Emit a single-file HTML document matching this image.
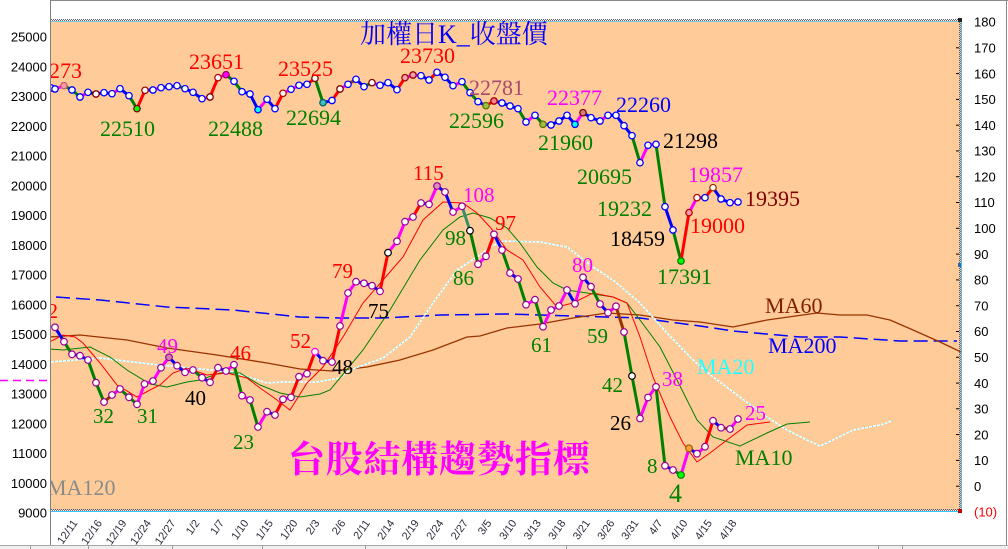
<!DOCTYPE html>
<html><head><meta charset="utf-8"><style>
html,body{margin:0;padding:0;background:#fff;}
body{width:1008px;height:549px;overflow:hidden;}
svg{display:block;}
.ax{font-family:"Liberation Sans",sans-serif;font-size:13px;fill:#000;}
.lb{font-family:"Liberation Serif",serif;font-size:22px;}
.lw{font-family:"Liberation Serif",serif;font-size:21px;}
.dt{font-family:"Liberation Sans",sans-serif;font-size:11px;fill:#2a2a3a;}
</style></head><body>
<svg width="1008" height="549" viewBox="0 0 1008 549" xmlns="http://www.w3.org/2000/svg">
<defs><clipPath id="pc"><rect x="51" y="21" width="910" height="489"/></clipPath></defs>
<rect x="0" y="0" width="1008" height="549" fill="#fff"/>
<!-- frame -->
<line x1="50" y1="0.5" x2="1008" y2="0.5" stroke="#8a8a8a"/>
<line x1="1006.5" y1="0" x2="1006.5" y2="545" stroke="#8a8a8a"/>
<line x1="50.5" y1="0" x2="50.5" y2="546" stroke="#808080"/>
<line x1="0" y1="545.5" x2="1008" y2="545.5" stroke="#a8a8a8"/>
<rect x="0" y="546" width="1008" height="3" fill="#efefef"/>
<line x1="30.5" y1="546" x2="30.5" y2="549" stroke="#999"/>
<line x1="88.5" y1="546" x2="88.5" y2="549" stroke="#999"/>
<line x1="172.5" y1="546" x2="172.5" y2="549" stroke="#999"/>
<line x1="262.5" y1="546" x2="262.5" y2="549" stroke="#999"/>
<line x1="365.5" y1="546" x2="365.5" y2="549" stroke="#999"/>
<line x1="566.5" y1="546" x2="566.5" y2="549" stroke="#999"/>
<line x1="878.5" y1="546" x2="878.5" y2="549" stroke="#999"/>
<line x1="902.5" y1="546" x2="902.5" y2="549" stroke="#999"/>
<!-- left magenta dashed -->
<line x1="0" y1="380.5" x2="48" y2="380.5" stroke="#ff00ff" stroke-width="1.5" stroke-dasharray="8 5"/>
<!-- plot bg -->
<rect x="51" y="21" width="910" height="489" fill="#FFCC99"/>
<!-- borders -->
<line x1="51" y1="19.5" x2="962" y2="19.5" stroke="#4a5a7a" stroke-dasharray="1 1"/>
<line x1="51" y1="20.5" x2="962" y2="20.5" stroke="#b05050" stroke-dasharray="1 1" stroke-dashoffset="1"/>
<line x1="51" y1="21.5" x2="962" y2="21.5" stroke="#33ccff" stroke-opacity="0.7"/>
<line x1="51" y1="509.5" x2="962" y2="509.5" stroke="#4a5a7a" stroke-dasharray="1 1"/>
<line x1="51" y1="510.5" x2="962" y2="510.5" stroke="#b05050" stroke-dasharray="1 1" stroke-dashoffset="1"/>
<line x1="51" y1="511.5" x2="962" y2="511.5" stroke="#33ccff"/>
<line x1="959.5" y1="20" x2="959.5" y2="511" stroke="#4a5a7a" stroke-dasharray="1 1"/>
<line x1="960.5" y1="20" x2="960.5" y2="511" stroke="#b05050" stroke-dasharray="1 1" stroke-dashoffset="1"/>
<line x1="961.5" y1="20" x2="961.5" y2="512" stroke="#33ccff"/>
<rect x="958" y="18" width="4" height="4" fill="#222"/>
<rect x="958" y="509" width="4" height="4" fill="#c00000"/>
<rect x="958" y="263" width="3" height="4" fill="#3366aa"/>
<!-- right ticks -->
<g stroke="#000" stroke-width="1">
<line x1="956" y1="47.8" x2="959" y2="47.8"/><line x1="956" y1="73.6" x2="959" y2="73.6"/><line x1="956" y1="99.4" x2="959" y2="99.4"/><line x1="956" y1="125.2" x2="959" y2="125.2"/><line x1="956" y1="150.9" x2="959" y2="150.9"/><line x1="956" y1="176.7" x2="959" y2="176.7"/><line x1="956" y1="202.5" x2="959" y2="202.5"/><line x1="956" y1="228.3" x2="959" y2="228.3"/><line x1="956" y1="254.1" x2="959" y2="254.1"/><line x1="956" y1="279.9" x2="959" y2="279.9"/><line x1="956" y1="305.7" x2="959" y2="305.7"/><line x1="956" y1="331.5" x2="959" y2="331.5"/><line x1="956" y1="357.3" x2="959" y2="357.3"/><line x1="956" y1="383.1" x2="959" y2="383.1"/><line x1="956" y1="408.8" x2="959" y2="408.8"/><line x1="956" y1="434.6" x2="959" y2="434.6"/><line x1="956" y1="460.4" x2="959" y2="460.4"/><line x1="956" y1="486.2" x2="959" y2="486.2"/>
</g>
<!-- left axis labels -->
<g class="ax" text-anchor="end">
<text x="47" y="41.7">25000</text><text x="47" y="71.4">24000</text><text x="47" y="101.2">23000</text><text x="47" y="130.9">22000</text><text x="47" y="160.7">21000</text><text x="47" y="190.4">20000</text><text x="47" y="220.2">19000</text><text x="47" y="249.9">18000</text><text x="47" y="279.7">17000</text><text x="47" y="309.4">16000</text><text x="47" y="339.2">15000</text><text x="47" y="368.9">14000</text><text x="47" y="398.7">13000</text><text x="47" y="428.4">12000</text><text x="47" y="458.2">11000</text><text x="47" y="487.9">10000</text><text x="47" y="517.7">9000</text>
</g>
<!-- right axis labels -->
<g class="ax">
<text x="974" y="26.7">180</text><text x="974" y="52.5">170</text><text x="974" y="78.3">160</text><text x="974" y="104.1">150</text><text x="974" y="129.9">140</text><text x="974" y="155.6">130</text><text x="974" y="181.4">120</text><text x="974" y="207.2">110</text><text x="974" y="233">100</text><text x="974" y="258.8">90</text><text x="974" y="284.6">80</text><text x="974" y="310.4">70</text><text x="974" y="336.2">60</text><text x="974" y="362">50</text><text x="974" y="387.8">40</text><text x="974" y="413.5">30</text><text x="974" y="439.3">20</text><text x="974" y="465.1">10</text><text x="974" y="490.9">0</text>
<text x="974" y="516.7" fill="#ff0000">(10)</text>
</g>
<!-- date labels -->
<g class="dt" text-anchor="end">
<text x="78" y="523" transform="rotate(-55 78 523)">12/11</text>
<text x="102.5" y="523" transform="rotate(-55 102.5 523)">12/16</text>
<text x="127" y="523" transform="rotate(-55 127 523)">12/19</text>
<text x="151.5" y="523" transform="rotate(-55 151.5 523)">12/24</text>
<text x="176" y="523" transform="rotate(-55 176 523)">12/27</text>
<text x="200" y="523" transform="rotate(-55 200 523)">1/2</text>
<text x="224.5" y="523" transform="rotate(-55 224.5 523)">1/7</text>
<text x="249" y="523" transform="rotate(-55 249 523)">1/10</text>
<text x="273.5" y="523" transform="rotate(-55 273.5 523)">1/15</text>
<text x="298" y="523" transform="rotate(-55 298 523)">1/20</text>
<text x="320" y="523" transform="rotate(-55 320 523)">2/3</text>
<text x="346" y="523" transform="rotate(-55 346 523)">2/6</text>
<text x="370.5" y="523" transform="rotate(-55 370.5 523)">2/11</text>
<text x="395" y="523" transform="rotate(-55 395 523)">2/14</text>
<text x="419.5" y="523" transform="rotate(-55 419.5 523)">2/19</text>
<text x="444" y="523" transform="rotate(-55 444 523)">2/24</text>
<text x="468.5" y="523" transform="rotate(-55 468.5 523)">2/27</text>
<text x="492" y="523" transform="rotate(-55 492 523)">3/5</text>
<text x="517" y="523" transform="rotate(-55 517 523)">3/10</text>
<text x="541.5" y="523" transform="rotate(-55 541.5 523)">3/13</text>
<text x="566" y="523" transform="rotate(-55 566 523)">3/18</text>
<text x="590.5" y="523" transform="rotate(-55 590.5 523)">3/21</text>
<text x="615" y="523" transform="rotate(-55 615 523)">3/26</text>
<text x="639" y="523" transform="rotate(-55 639 523)">3/31</text>
<text x="663" y="523" transform="rotate(-55 663 523)">4/7</text>
<text x="688" y="523" transform="rotate(-55 688 523)">4/10</text>
<text x="712.5" y="523" transform="rotate(-55 712.5 523)">4/15</text>
<text x="737" y="523" transform="rotate(-55 737 523)">4/18</text>
</g>

<g clip-path="url(#pc)">
<!-- MA lines -->
<polyline fill="none" stroke="#0000ff" stroke-width="1.5" stroke-dasharray="14 6" points="56,297 100,300 167,307 233,310 300,317 340,318 383,318 440,315 507,314 573,316 640,318 700,326 733,331 800,337 840,337 900,341 957,341"/>
<polyline fill="none" stroke="#993300" stroke-width="1.3" points="50,337 80,335 127,340 167,348 217,355 267,363 300,369 333,371 367,367 400,360 433,350 467,337 480,336 507,328 540,324 573,318 607,313 640,315 673,320 700,322 733,327 767,320 817,313 840,315 867,315 890,320 913,330 940,342 961,352"/>
<polyline fill="none" stroke="#ffffff" stroke-width="1.4" points="50,362 100,358 150,364 190,368 233,372 267,383 283,382 317,382 340,378 350,370 383,358 410,337 433,303 457,270 480,255 490,247 503,241 540,242 567,247 593,267 613,280 640,303 667,333 693,360 713,377 740,397 767,417 787,430 807,440 820,446 833,440 853,430 880,425 892,421"/>
<polyline fill="none" stroke="#22ddee" stroke-width="1" stroke-dasharray="1 3" points="50,362 100,358 150,364 190,368 233,372 267,383 283,382 317,382 340,378 350,370 383,358 410,337 433,303 457,270 480,255 490,247 503,241 540,242 567,247 593,267 613,280 640,303 667,333 693,360 713,377 740,397 767,417 787,430 807,440 820,446 833,440 853,430 880,425 892,421"/>
<polyline fill="none" stroke="#008000" stroke-width="1" points="50,349 63,350 90,347 110,357 127,370 150,384 167,387 187,382 200,380 220,373 240,373 260,385 280,393 300,397 320,394 330,390 340,378 363,350 390,310 420,260 443,230 460,217 473,213 490,218 507,228 520,243 537,267 553,283 567,290 587,293 613,297 627,303 640,320 660,347 677,380 697,420 713,437 740,446 767,433 787,424 810,422"/>
<polyline fill="none" stroke="#ff0000" stroke-width="1" points="50,341.7 63,335 75,337 83,343 100,363 117,385 137,397 150,390 160,385 173,373 187,368 207,375 227,373 247,378 260,388 273,397 290,410 307,383 323,367 343,337 363,303 383,280 403,257 423,220 443,202 463,203 477,213 490,227 507,250 523,260 540,287 557,307 573,303 593,293 613,297 627,303 640,337 653,377 670,417 683,443 697,462 710,453 727,440 747,425 770,422"/>

<!-- lower indicator line -->
<g fill="none" stroke-width="3" stroke-linejoin="round">
<path stroke="#0000ff" d="M55 327.3L64 341.7M72 354.3L80 355.7L88 360M169 357.3L177 365.7L185 372.3M202 377.7L210 382.3M218 367.7L226 371M267 411.7L275 415M315 351.7L323 360.7L332 362M356 281.7L364 283.3L372 285.7L380 291.3M421 203L429 204.3M437 186L445 192L453 212M494 234.3L502 250M510 273L518 279M567 290L575 303.7M583 277.3L591 286.7M600 304L608 312.7M665 465.7L673 470M689 448.3L697 453.7M713 420.7L721 427.7"/>
<path stroke="#008000" d="M64 341.7L72 354.3M88 360L96 382.7L104 402M120 389L129 397.3L137 404.3M193 370L202 377.7M234 364.7L242 395.7M250 400L258 427M470 230.7L478 264.2M502 250L510 273M518 279L526 304.7M535 299.7L543 326.7M591 286.7L600 304M624 332L632 376L640 418.5M656 386.8L665 465.7M673 470L681 475"/>
<path stroke="#ff00ff" d="M112 395L120 389M137 404.3L144.5 384L153 381L161 367.7L169 357.3M185 372.3L193 370M226 371L234 364.7M242 395.7L250 400M258 427L267 411.7M283 399.3L291 397.3M299 376.7L307 373.7M340 326L348 293L356 281.7M388 252.7L397 241.3L405 221.7L413 217M429 204.3L437 186M453 212L462 206.3M478 264.2L486 256.3M526 304.7L535 299.7M543 326.7L551 310L559 306L567 290M575 303.7L583 277.3M608 312.7L616 306.3M640 418.5L648 397.5L656 386.8M681 475L689 448.3M697 453.7L705 446.7M730 429L738 419"/>
<path stroke="#ff0000" d="M210 382.3L218 367.7M275 415L283 399.3M291 397.3L299 376.7M307 373.7L315 351.7M332 362L340 326M380 291.3L388 252.7M413 217L421 203M486 256.3L494 234.3M705 446.7L713 420.7"/>
<path stroke="#993300" d="M104 402L112 395M616 306.3L624 332M721 427.7L730 429"/>
<path stroke="#3a8f6a" d="M462 206.3L470 230.7"/>
</g>
<g fill="#fff" stroke="#990099" stroke-width="1.2">
<circle cx="55" cy="327.3" r="3.3"/><circle cx="64" cy="341.7" r="3.3"/><circle cx="72" cy="354.3" r="3.3"/><circle cx="80" cy="355.7" r="3.3"/><circle cx="88" cy="360" r="3.3"/><circle cx="96" cy="382.7" r="3.3"/><circle cx="104" cy="402" r="3.3"/><circle cx="112" cy="395" r="3.3"/><circle cx="120" cy="389" r="3.3"/><circle cx="129" cy="397.3" r="3.3"/><circle cx="137" cy="404.3" r="3.3"/><circle cx="144.5" cy="384" r="3.3"/><circle cx="153" cy="381" r="3.3"/><circle cx="161" cy="367.7" r="3.3"/><circle cx="169" cy="357.3" r="3.3" fill="#d080b0"/><circle cx="177" cy="365.7" r="3.3"/><circle cx="185" cy="372.3" r="3.3"/><circle cx="193" cy="370" r="3.3"/><circle cx="202" cy="377.7" r="3.3"/><circle cx="210" cy="382.3" r="3.3"/><circle cx="218" cy="367.7" r="3.3"/><circle cx="226" cy="371" r="3.3"/><circle cx="234" cy="364.7" r="3.3"/><circle cx="242" cy="395.7" r="3.3"/><circle cx="250" cy="400" r="3.3"/><circle cx="258" cy="427" r="3.3"/><circle cx="267" cy="411.7" r="3.3"/><circle cx="275" cy="415" r="3.3"/><circle cx="283" cy="399.3" r="3.3"/><circle cx="291" cy="397.3" r="3.3"/><circle cx="299" cy="376.7" r="3.3"/><circle cx="307" cy="373.7" r="3.3"/><circle cx="315" cy="351.7" r="3.3" stroke="#ff00ff"/><circle cx="323" cy="360.7" r="3.3"/><circle cx="332" cy="362" r="3.3"/><circle cx="340" cy="326" r="3.3"/><circle cx="348" cy="293" r="3.3"/><circle cx="356" cy="281.7" r="3.3"/><circle cx="364" cy="283.3" r="3.3"/><circle cx="372" cy="285.7" r="3.3"/><circle cx="380" cy="291.3" r="3.3"/><circle cx="388" cy="252.7" r="3.3" stroke="#000"/><circle cx="397" cy="241.3" r="3.3"/><circle cx="405" cy="221.7" r="3.3"/><circle cx="413" cy="217" r="3.3"/><circle cx="421" cy="203" r="3.3"/><circle cx="429" cy="204.3" r="3.3"/><circle cx="437" cy="186" r="3.3" fill="#e090c0"/><circle cx="445" cy="192" r="3.3"/><circle cx="453" cy="212" r="3.3"/><circle cx="462" cy="206.3" r="3.3"/><circle cx="470" cy="230.7" r="3.3" stroke="#000"/><circle cx="478" cy="264.2" r="3.3"/><circle cx="486" cy="256.3" r="3.3"/><circle cx="494" cy="234.3" r="3.3"/><circle cx="502" cy="250" r="3.3"/><circle cx="510" cy="273" r="3.3"/><circle cx="518" cy="279" r="3.3"/><circle cx="526" cy="304.7" r="3.3"/><circle cx="535" cy="299.7" r="3.3"/><circle cx="543" cy="326.7" r="3.3"/><circle cx="551" cy="310" r="3.3"/><circle cx="559" cy="306" r="3.3"/><circle cx="567" cy="290" r="3.3"/><circle cx="575" cy="303.7" r="3.3"/><circle cx="583" cy="277.3" r="3.3"/><circle cx="591" cy="286.7" r="3.3"/><circle cx="600" cy="304" r="3.3"/><circle cx="608" cy="312.7" r="3.3"/><circle cx="616" cy="306.3" r="3.3"/><circle cx="624" cy="332" r="3.3"/><circle cx="632" cy="376" r="3.3" stroke="#000"/><circle cx="640" cy="418.5" r="3.3"/><circle cx="648" cy="397.5" r="3.3"/><circle cx="656" cy="386.8" r="3.3"/><circle cx="665" cy="465.7" r="3.3"/><circle cx="673" cy="470" r="3.3"/><circle cx="681" cy="475" r="3.3" fill="#00ff00" stroke="#008000"/><circle cx="689" cy="448.3" r="3.3" fill="#ffa040" stroke="#a06000"/><circle cx="697" cy="453.7" r="3.3"/><circle cx="705" cy="446.7" r="3.3"/><circle cx="713" cy="420.7" r="3.3"/><circle cx="721" cy="427.7" r="3.3"/><circle cx="730" cy="429" r="3.3"/><circle cx="738" cy="419" r="3.3"/>
</g>

<!-- price line -->
<g fill="none" stroke-width="3" stroke-linejoin="round">
<path stroke="#0000ff" d="M51 88L55 89M96 94L104 92.7L112 93.7M120 88.7L129 95.7M145 90.3L153 90M161 87.7L169 86.7L177 85.7M185 88.7L193 92.3L202 98.7M242 91.7L250 94L258 109.7M267 99.3L275 108.7M299 85.3L307 84.3M323 102.7L332 100.5M356 79.3L364 86.7M380 85.3L388 82.7L397 89.7M421 75.7L429 80M437 72.3L445 77.3L453 85.7M478 101.7L486 105.7M494 101L502 103L510 106L518 108.7M543 124.3L551 125L559 121L567 115.3L575 124.3M583 112.7L591 117.7L600 121M608 115.3L616 115.3L624 125.7L632 135.7M665 206.7L673 230M697 197.7L705 197.7M713 187.7L721 199L730 202.7"/>
<path stroke="#008000" d="M64 85.7L72 90L80 97M129 95.7L137 108.7M177 85.7L185 88.7M226 74.7L234 81.3L242 91.7M315 78.3L323 102.7M364 86.7L372 82.7M462 81.7L470 92.7L478 101.7M518 108.7L526 122M535 115.3L543 124.3M632 135.7L640 162.7M656 144.3L665 206.7M673 230L681 261"/>
<path stroke="#ff00ff" d="M55 89L64 85.7M80 97L88 92.3M112 93.7L120 88.7M153 90L161 87.7M202 98.7L210 97M218 77.7L226 74.7M258 109.7L267 99.3M283 93.3L291 89.3L299 85.3M340 89L348 84.3M372 82.7L380 85.3M405 77.7L413 75L421 75.7M453 85.7L462 81.7M526 122L535 115.3M575 124.3L583 112.7M600 121L608 115.3M640 162.7L648 145.3L656 144.3M689 212.7L697 197.7M730 202.7L738 202"/>
<path stroke="#ff0000" d="M137 108.7L145 90.3M210 97L218 77.7M275 108.7L283 93.3M307 84.3L315 78.3M332 100.5L340 89M397 89.7L405 77.7M429 80L437 72.3M486 105.7L494 101M681 261L689 212.7M705 197.7L713 187.7"/>
<path stroke="#000000" d="M88 92.3L96 94"/>
<path stroke="#993300" d="M348 84.3L356 79.3"/>
</g>
<g fill="#fff" stroke="#0000ff" stroke-width="1.3">
<circle cx="51" cy="88" r="3.2"/><circle cx="55" cy="89" r="3.2"/><circle cx="64" cy="85.7" r="3.2" fill="#ff99aa" stroke="#c06070"/><circle cx="72" cy="90" r="3.2"/><circle cx="80" cy="97" r="3.2"/><circle cx="88" cy="92.3" r="3.2"/><circle cx="96" cy="94" r="3.2" stroke="#800000"/><circle cx="104" cy="92.7" r="3.2"/><circle cx="112" cy="93.7" r="3.2"/><circle cx="120" cy="88.7" r="3.2"/><circle cx="129" cy="95.7" r="3.2"/><circle cx="137" cy="108.7" r="3.2" fill="#00ff00" stroke="#800000"/><circle cx="145" cy="90.3" r="3.2" stroke="#a00000"/><circle cx="153" cy="90" r="3.2"/><circle cx="161" cy="87.7" r="3.2"/><circle cx="169" cy="86.7" r="3.2"/><circle cx="177" cy="85.7" r="3.2"/><circle cx="185" cy="88.7" r="3.2"/><circle cx="193" cy="92.3" r="3.2"/><circle cx="202" cy="98.7" r="3.2"/><circle cx="210" cy="97" r="3.2" stroke="#800000"/><circle cx="218" cy="77.7" r="3.2" stroke="#c00000"/><circle cx="226" cy="74.7" r="3.2" fill="#ff00ff" stroke="#a00060"/><circle cx="234" cy="81.3" r="3.2"/><circle cx="242" cy="91.7" r="3.2"/><circle cx="250" cy="94" r="3.2"/><circle cx="258" cy="109.7" r="3.2" fill="#00ffff"/><circle cx="267" cy="99.3" r="3.2"/><circle cx="275" cy="108.7" r="3.2"/><circle cx="283" cy="93.3" r="3.2" stroke="#c00000"/><circle cx="291" cy="89.3" r="3.2"/><circle cx="299" cy="85.3" r="3.2"/><circle cx="307" cy="84.3" r="3.2"/><circle cx="315" cy="78.3" r="3.2" stroke="#800000"/><circle cx="323" cy="102.7" r="3.2" fill="#40c0c0" stroke="#006060"/><circle cx="332" cy="100.5" r="3.2"/><circle cx="340" cy="89" r="3.2" stroke="#800000"/><circle cx="348" cy="84.3" r="3.2"/><circle cx="356" cy="79.3" r="3.2"/><circle cx="364" cy="86.7" r="3.2"/><circle cx="372" cy="82.7" r="3.2" stroke="#800000"/><circle cx="380" cy="85.3" r="3.2"/><circle cx="388" cy="82.7" r="3.2"/><circle cx="397" cy="89.7" r="3.2"/><circle cx="405" cy="77.7" r="3.2" fill="#f0a0b0" stroke="#a00000"/><circle cx="413" cy="75" r="3.2" fill="#f0a0b0" stroke="#a00000"/><circle cx="421" cy="75.7" r="3.2"/><circle cx="429" cy="80" r="3.2"/><circle cx="437" cy="72.3" r="3.2"/><circle cx="445" cy="77.3" r="3.2"/><circle cx="453" cy="85.7" r="3.2"/><circle cx="462" cy="81.7" r="3.2"/><circle cx="470" cy="92.7" r="3.2"/><circle cx="478" cy="101.7" r="3.2"/><circle cx="486" cy="105.7" r="3.2" fill="#a0c040" stroke="#607000"/><circle cx="494" cy="101" r="3.2" fill="#ff8090" stroke="#a00000"/><circle cx="502" cy="103" r="3.2"/><circle cx="510" cy="106" r="3.2"/><circle cx="518" cy="108.7" r="3.2"/><circle cx="526" cy="122" r="3.2"/><circle cx="535" cy="115.3" r="3.2"/><circle cx="543" cy="124.3" r="3.2" fill="#a0c040" stroke="#607000"/><circle cx="551" cy="125" r="3.2"/><circle cx="559" cy="121" r="3.2"/><circle cx="567" cy="115.3" r="3.2"/><circle cx="575" cy="124.3" r="3.2" fill="#00ffff"/><circle cx="583" cy="112.7" r="3.2" fill="#d08080" stroke="#800000"/><circle cx="591" cy="117.7" r="3.2"/><circle cx="600" cy="121" r="3.2"/><circle cx="608" cy="115.3" r="3.2"/><circle cx="616" cy="115.3" r="3.2"/><circle cx="624" cy="125.7" r="3.2"/><circle cx="632" cy="135.7" r="3.2"/><circle cx="640" cy="162.7" r="3.2"/><circle cx="648" cy="145.3" r="3.2"/><circle cx="656" cy="144.3" r="3.2"/><circle cx="665" cy="206.7" r="3.2"/><circle cx="673" cy="230" r="3.2"/><circle cx="681" cy="261" r="3.2" fill="#00ff00" stroke="#008000"/><circle cx="689" cy="212.7" r="3.2" fill="#ff99aa" stroke="#c00000"/><circle cx="697" cy="197.7" r="3.2" stroke="#c00000"/><circle cx="705" cy="197.7" r="3.2"/><circle cx="713" cy="187.7" r="3.2" stroke="#993300"/><circle cx="721" cy="199" r="3.2"/><circle cx="730" cy="202.7" r="3.2"/><circle cx="738" cy="202" r="3.2"/>
</g>

<!-- price labels -->
<g class="lb">
<text x="82" y="78" text-anchor="end" fill="#ff0000">23273</text>
<text x="100" y="136" fill="#008000">22510</text>
<text x="189" y="69" fill="#ff0000">23651</text>
<text x="208" y="136" fill="#008000">22488</text>
<text x="278" y="76" fill="#ff0000">23525</text>
<text x="286" y="125" fill="#008000">22694</text>
<text x="400" y="63" fill="#ff0000">23730</text>
<text x="469" y="95" fill="#a8486e">22781</text>
<text x="449" y="128" fill="#008000">22596</text>
<text x="547" y="105" fill="#ff00ff">22377</text>
<text x="538" y="150" fill="#008000">21960</text>
<text x="616" y="112" fill="#0000ff">22260</text>
<text x="663" y="148" fill="#000000">21298</text>
<text x="577" y="184" fill="#008000">20695</text>
<text x="597" y="216" fill="#008000">19232</text>
<text x="610" y="246" fill="#000000">18459</text>
<text x="657" y="284" fill="#008000">17391</text>
<text x="688" y="182" fill="#ff00ff">19857</text>
<text x="690" y="233" fill="#ff0000">19000</text>
<text x="745" y="206" fill="#800000">19395</text>
<text x="765" y="313" fill="#802000">MA60</text>
<text x="768" y="353" fill="#0000ff">MA200</text>
<text x="697" y="374" fill="#22ffff">MA20</text>
<text x="735" y="465" fill="#008000">MA10</text>
<text x="47" y="495" fill="#8a8a8a">MA120</text>
</g>
<!-- lower labels -->
<g class="lw">
<text x="58" y="318" text-anchor="end" fill="#ff0000">62</text>
<text x="93" y="423" fill="#008000">32</text>
<text x="137" y="423" fill="#008000">31</text>
<text x="157" y="353" fill="#ff00ff">49</text>
<text x="185" y="405" fill="#000000">40</text>
<text x="230" y="360" fill="#ff0000">46</text>
<text x="233" y="449" fill="#008000">23</text>
<text x="290" y="348" fill="#ff0000">52</text>
<text x="332" y="374" fill="#000000">48</text>
<text x="332" y="278" fill="#ff0000">79</text>
<text x="368" y="318" fill="#000000">75</text>
<text x="413" y="180" fill="#ff0000">115</text>
<text x="463" y="202" fill="#ff00ff">108</text>
<text x="445" y="245" fill="#008000">98</text>
<text x="453" y="285" fill="#008000">86</text>
<text x="495" y="230" fill="#ff0000">97</text>
<text x="531" y="352" fill="#008000">61</text>
<text x="572" y="272" fill="#ff00ff">80</text>
<text x="587" y="343" fill="#008000">59</text>
<text x="602" y="392" fill="#008000">42</text>
<text x="610" y="430" fill="#000000">26</text>
<text x="662" y="386" fill="#ff00ff">38</text>
<text x="647" y="473" fill="#008000">8</text>
<text x="669" y="502" fill="#008000" font-size="26">4</text>
<text x="745" y="420" fill="#ff00ff">25</text>
</g>
<!-- titles -->
<text x="360" y="43" font-family="'Liberation Serif','Noto Serif CJK SC',serif" font-size="26" fill="#0000ff">加權日K_收盤價</text>
<text x="288" y="472" font-family="'Liberation Serif','Noto Serif CJK SC',serif" font-size="37" font-weight="bold" letter-spacing="0.8" fill="#ff00ff">台股結構趨勢指標</text>
</g>
</svg>
</body></html>
